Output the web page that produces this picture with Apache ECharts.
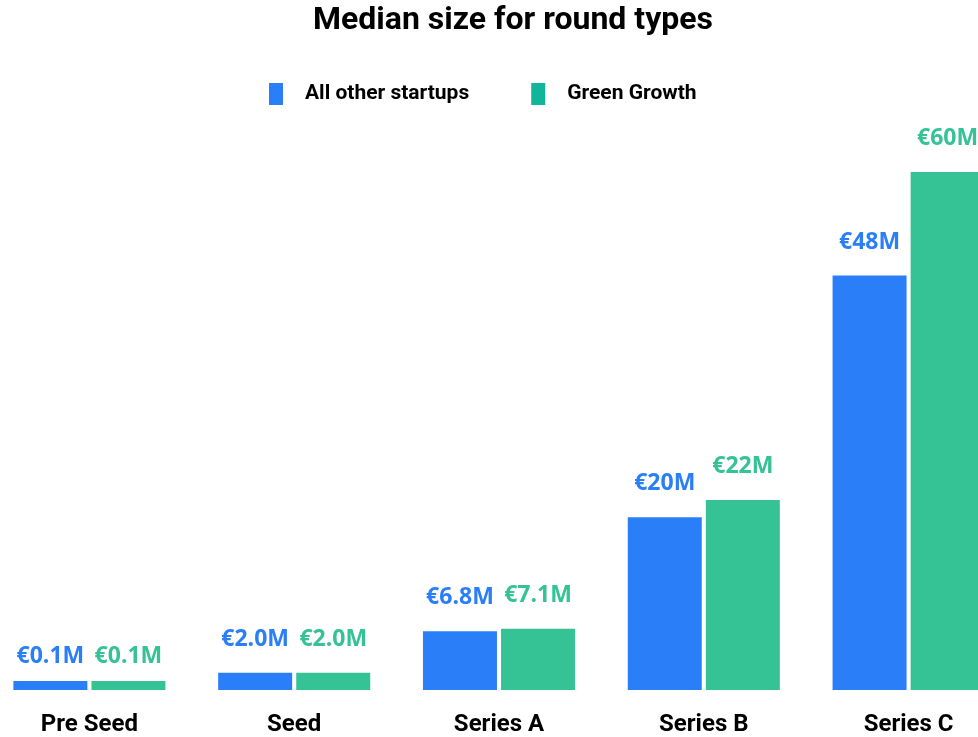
<!DOCTYPE html>
<html>
<head>
<meta charset="utf-8">
<script src="https://cdn.jsdelivr.net/npm/echarts@6/dist/echarts.min.js"></script>
<style>
  html, body { margin: 0; padding: 0; background: #fff; overflow: hidden; }
  /* plot runs past the right edge in the original, so the canvas is wider than the window */
  #chart { width: 1024px; height: 737px; margin-left: -13px; }
</style>
</head>
<body>
<div id="chart"></div>
<script>
// round types and median sizes (million EUR)
const categories = ['Pre Seed', 'Seed', 'Series A', 'Series B', 'Series C']
const otherStartups = [0.1, 2.0, 6.8, 20, 48]
const greenGrowth = [0.1, 2.0, 7.1, 22, 60]

const BLUE = '#2a7ff8'
const GREEN = '#35c295'

const fmt = (v) => '€' + (v < 10 ? v.toFixed(1) : Math.round(v)) + 'M'

const chart = echarts.init(document.getElementById('chart'))

const labelStyle = (color) => ({
  show: true,
  position: 'top',
  distance: 22,
  color: color,
  fontFamily: 'Open Sans',
  fontWeight: 'bold',
  fontSize: 23,
  formatter: (p) => fmt(p.value)
})

// tiny bars sit on a minimum height, their labels hug them a little closer
const toItems = (arr) => arr.map((v) => (v < 1 ? { value: v, label: { distance: 13 } } : v))

chart.setOption({
  animation: false,
  title: {
    text: 'Median size for round types',
    left: 521,
    textAlign: 'center',
    top: 0,
    textStyle: { fontFamily: 'Roboto', fontWeight: 'bold', fontSize: 32, color: '#000' }
  },
  legend: {
    top: 78,
    left: 277,
    itemWidth: 14,
    itemHeight: 22,
    itemGap: 62,
    icon: 'rect',
    data: [
      { name: 'All other startups', itemStyle: { color: BLUE } },
      { name: 'Green Growth', itemStyle: { color: '#10b699' } }
    ],
    textStyle: {
      fontFamily: 'Roboto', fontWeight: 'bold', fontSize: 21, color: '#000',
      padding: [0, 0, 0, 17]
    }
  },
  grid: { left: 0, right: 0, top: 172, bottom: 39, containLabel: false },
  xAxis: {
    type: 'category',
    data: categories,
    axisLine: { show: false },
    axisTick: { show: false },
    axisLabel: {
      margin: 23,
      color: '#000',
      fontFamily: 'Roboto',
      fontWeight: 'bold',
      fontSize: 24
    }
  },
  yAxis: {
    type: 'value',
    min: 0,
    max: 60,
    show: false,
    splitLine: { show: false }
  },
  series: [
    {
      name: 'All other startups',
      type: 'bar',
      data: toItems(otherStartups),
      barWidth: 74,
      barGap: '5.5%',
      barMinHeight: 9,
      itemStyle: { color: BLUE },
      label: labelStyle(BLUE)
    },
    {
      name: 'Green Growth',
      type: 'bar',
      data: toItems(greenGrowth),
      barWidth: 74,
      barMinHeight: 9,
      itemStyle: { color: GREEN },
      label: labelStyle(GREEN)
    }
  ]
})
</script>
</body>
</html>
